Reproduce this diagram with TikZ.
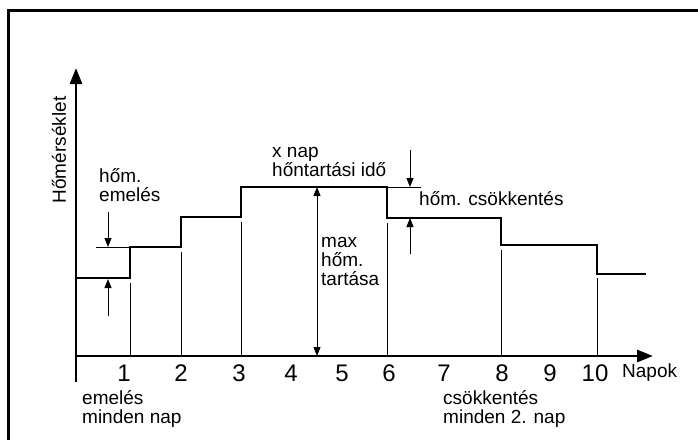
\documentclass[tikz,border=0pt]{standalone}
\usepackage{fontspec}
\setmainfont{Liberation Sans}
\usetikzlibrary{arrows.meta}
\begin{document}
\begin{tikzpicture}[x=1pt,y=-1pt,
  thickline/.style={line width=2.8pt,line join=miter},
  thinline/.style={line width=1pt},
  axisline/.style={line width=2.8pt,-{Triangle[length=16pt,width=12pt]}},
  dimarrow/.style={line width=1pt,-{Triangle[length=9pt,width=7pt]}},
  lbl/.style={inner sep=0pt,anchor=west,align=left,font=\fontsize{19}{19}\selectfont},
  daynum/.style={inner sep=0pt,text height=17pt,text depth=0pt,font=\fontsize{24}{24}\selectfont}]
\useasboundingbox (0,0) rectangle (698,440);

% frame
\draw[line width=3pt] (8,440) -- (8,10) -- (698,10);

% named points
\coordinate (o) at (76,356);
\coordinate (ybot) at (76,382);
\coordinate (ytop) at (76,68);
\coordinate (xtip) at (653,356);

% axes
\draw[axisline] (ybot) -- (ytop);
\draw[axisline] (o) -- (xtip);

% day tick lines
\foreach \x/\y in {130/283,181/252,241/222,387/223,501/250,597/278}
  \draw[thinline] (\x,356) -- (\x,\y);

% temperature steps
\draw[thickline] (76,278) -- (130,278) -- (130,247) -- (181,247) -- (181,217)
  -- (241,217) -- (241,187) -- (387,187) -- (387,218) -- (501,218)
  -- (501,245) -- (597,245) -- (597,274) -- (646,274);

% rise per step
\coordinate (r1) at (96,247);
\coordinate (r2) at (130,247);
\draw[thinline] (r1) -- (r2);
\coordinate (ra) at (108,212);
\coordinate (rb) at (108,247);
\coordinate (rc) at (108,316);
\coordinate (rd) at (108,279);
\draw[dimarrow] (ra) -- (rb);
\draw[dimarrow] (rc) -- (rd);

% maximum holding
\coordinate (ma) at (317,187);
\coordinate (mb) at (317,356);
\draw[dimarrow,{Triangle[length=9pt,width=7pt]}-{Triangle[length=9pt,width=7pt]}] (ma) -- (mb);

% drop per step
\coordinate (d1) at (387,187);
\coordinate (d2) at (421,187);
\draw[thinline] (d1) -- (d2);
\coordinate (da) at (410,150);
\coordinate (db) at (410,187);
\coordinate (dc) at (410,254);
\coordinate (dd) at (410,218);
\draw[dimarrow] (da) -- (db);
\draw[dimarrow] (dc) -- (dd);

% labels
\node[lbl,rotate=90,anchor=center] (ylab) at (59,150) {Hőmérséklet};
\node[lbl] (rise) at (99,185) {hőm.\\emelés};
\node[lbl] (hold) at (272,162) {x nap\\hőntartási idő};
\node[lbl] (maxl) at (321,261) {max\\hőm.\\tartása};
\node[lbl] (drop) at (419,199) {hőm. csökkentés};
\node[lbl] (risen) at (82,409) {emelés\\minden nap};
\node[lbl] (dropn) at (443,409) {csökkentés\\minden 2. nap};
\node[lbl] (days) at (622,373) {Napok};

% day numbers
\foreach \x/\n in {124/1,181/2,239/3,291/4,342/5,389/6,444/7,502/8,550/9,595/10}
  \node[daynum] (n\n) at (\x,373) {\n};
\end{tikzpicture}
\end{document}
